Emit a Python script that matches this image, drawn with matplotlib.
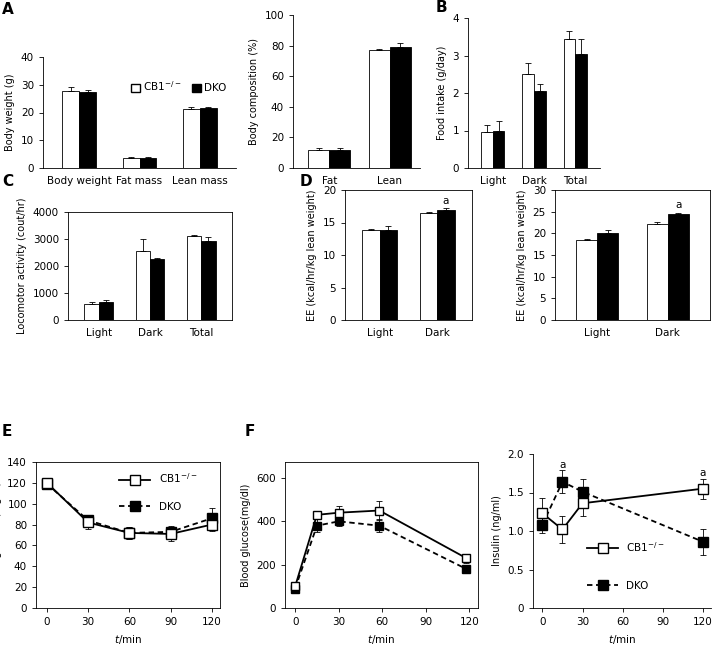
import matplotlib
matplotlib.use("Agg")
import matplotlib.pyplot as plt
import numpy as np
from matplotlib.lines import Line2D
from matplotlib.patches import Patch

plt.rcParams['font.family'] = ['DejaVu Sans']
plt.rcParams['font.size'] = 7.5
plt.rcParams['axes.labelsize'] = 7
plt.rcParams['axes.linewidth'] = 0.6
plt.rcParams['xtick.major.width'] = 0.6
plt.rcParams['ytick.major.width'] = 0.6

W, H = 726, 648
fig = plt.figure(figsize=(W/100, H/100), dpi=100)

def ax_at(x0, y0, x1, y1):
    return fig.add_axes([x0/W, 1-y1/H, (x1-x0)/W, (y1-y0)/H])

# data
a1_cats = ["Body weight", "Fat mass", "Lean mass"]
a1_cb1 = [27.8, 3.7, 21.3]; a1_cb1_e = [1.3, 0.4, 0.8]
a1_dko = [27.3, 3.6, 21.5]; a1_dko_e = [0.8, 0.3, 0.5]
a2_cats = ["Fat", "Lean"]
a2_cb1 = [11.5, 77.0]; a2_cb1_e = [1.5, 1.0]
a2_dko = [12.0, 79.0]; a2_dko_e = [1.2, 3.0]
b_cats = ["Light", "Dark", "Total"]
b_cb1 = [0.95, 2.5, 3.45]; b_cb1_e = [0.2, 0.3, 0.2]
b_dko = [1.0, 2.05, 3.05]; b_dko_e = [0.25, 0.2, 0.4]
c_cb1 = [580, 2560, 3120]; c_cb1_e = [80, 450, 40]
c_dko = [650, 2250, 2920]; c_dko_e = [80, 30, 170]
d_cats = ["Light", "Dark"]
d1_cb1 = [13.8, 16.4]; d1_cb1_e = [0.2, 0.2]
d1_dko = [13.9, 17.0]; d1_dko_e = [0.5, 0.2]
d2_cb1 = [18.4, 22.2]; d2_cb1_e = [0.4, 0.5]
d2_dko = [20.1, 24.4]; d2_dko_e = [0.7, 0.3]
e_t = [0, 30, 60, 90, 120]
e_cb1 = [120, 82, 72, 71, 80]; e_cb1_e = [3, 6, 6, 7, 6]
e_dko = [119, 84, 72, 73, 86]; e_dko_e = [3, 5, 6, 6, 10]
f_t = [0, 15, 30, 58, 118]
f_cb1 = [100, 430, 440, 450, 230]; f_cb1_e = [20, 20, 30, 45, 20]
f_dko = [90, 380, 400, 380, 180]; f_dko_e = [20, 30, 20, 30, 15]
i_t = [0, 15, 30, 120]
i_cb1 = [1.23, 1.02, 1.36, 1.55]; i_cb1_e = [0.2, 0.18, 0.17, 0.13]
i_dko = [1.08, 1.64, 1.51, 0.86]; i_dko_e = [0.1, 0.15, 0.17, 0.17]

def bars(ax, cats, v1, e1, v2, e2, ylim, yticks, ylabel, box=False, bw=0.28, marks=None):
    x = np.arange(len(cats))
    ek = dict(elinewidth=0.6, capsize=2.5, capthick=0.6, ecolor='black')
    ax.bar(x - bw/2, v1, bw, yerr=[np.zeros(len(v1)), e1], color='white', edgecolor='black', linewidth=0.6, error_kw=ek)
    ax.bar(x + bw/2, v2, bw, yerr=[np.zeros(len(v2)), e2], color='black', edgecolor='black', linewidth=0.6, error_kw=ek)
    ax.set_xticks(x); ax.set_xticklabels(cats)
    ax.tick_params(axis='x', length=0, pad=6)
    ax.tick_params(axis='y', length=3)
    ax.set_xlim(-0.6, len(cats) - 0.4)
    ax.set_ylim(*ylim); ax.set_yticks(yticks)
    ax.set_ylabel(ylabel)
    if not box:
        ax.spines['top'].set_visible(False); ax.spines['right'].set_visible(False)
    if marks:
        for i in marks:
            ax.text(x[i] + bw/2, v2[i] + e2[i] + (ylim[1]-ylim[0])*0.02, 'a', ha='center', va='bottom')

a1 = ax_at(43, 57, 236, 168)
bars(a1, a1_cats, a1_cb1, a1_cb1_e, a1_dko, a1_dko_e, (0, 40), [0, 10, 20, 30, 40], "Body weight (g)")
a1.legend(handles=[Patch(facecolor='white', edgecolor='black', label='CB1$^{-/-}$'),
                   Patch(facecolor='black', edgecolor='black', label='DKO')],
          ncol=2, frameon=False, loc='upper right', bbox_to_anchor=(1.0, 0.88),
          handlelength=0.9, handleheight=0.9, columnspacing=1.0, handletextpad=0.3)
a2 = ax_at(293, 15, 420, 168)
bars(a2, a2_cats, a2_cb1, a2_cb1_e, a2_dko, a2_dko_e, (0, 100), [0, 20, 40, 60, 80, 100], "Body composition (%)", bw=0.35)
a2.set_xlim(-0.6, 1.5)
b = ax_at(468, 18, 600, 168)
bars(b, b_cats, b_cb1, b_cb1_e, b_dko, b_dko_e, (0, 4), [0, 1, 2, 3, 4], "Food intake (g/day)")
c = ax_at(68, 212, 232, 320)
bars(c, b_cats, c_cb1, c_cb1_e, c_dko, c_dko_e, (0, 4000), [0, 1000, 2000, 3000, 4000], "Locomotor activity (cout/hr)", box=True)
d1 = ax_at(345, 190, 472, 320)
bars(d1, d_cats, d1_cb1, d1_cb1_e, d1_dko, d1_dko_e, (0, 20), [0, 5, 10, 15, 20], "EE (kcal/hr/kg lean weight)", box=True, marks=[1], bw=0.3)
d2 = ax_at(555, 190, 710, 320)
bars(d2, d_cats, d2_cb1, d2_cb1_e, d2_dko, d2_dko_e, (0, 30), [0, 5, 10, 15, 20, 25, 30], "EE (kcal/hr/kg lean weight)", box=True, marks=[1], bw=0.3)

def lines(ax, t, v1, e1, v2, e2, ms=7):
    ek = dict(elinewidth=0.6, capsize=2.5, capthick=0.6, ecolor='black')
    ax.errorbar(t, v2, yerr=e2, fmt='s--', color='black', mfc='black', mec='black', ms=ms, lw=1.3, dashes=(3, 2), **ek)
    ax.errorbar(t, v1, yerr=e1, fmt='s-', color='black', mfc='white', mec='black', ms=ms, lw=1.3, **ek)
    ax.set_xticks([0, 30, 60, 90, 120])
    ax.set_xlabel('$\\it{t}$/min', fontsize=7.5)
    ax.tick_params(length=3)

e = ax_at(36, 462, 220, 608)
lines(e, e_t, e_cb1, e_cb1_e, e_dko, e_dko_e)
e.set_xlim(-8, 126); e.set_ylim(0, 140); e.set_yticks(range(0, 141, 20))
e.set_ylabel("Blood glucose (mg/dl)")
leg_h = [Line2D([], [], color='black', lw=1.3, marker='s', mfc='white', mec='black', ms=7, label='CB1$^{-/-}$'),
         Line2D([], [], color='black', lw=1.3, ls='--', dashes=(3, 2), marker='s', mfc='black', ms=7, label='DKO')]
e.legend(handles=leg_h, loc='upper left', bbox_to_anchor=(0.4, 1.0), frameon=False, labelspacing=1.6, handlelength=3)

f = ax_at(285, 462, 478, 608)
lines(f, f_t, f_cb1, f_cb1_e, f_dko, f_dko_e, ms=6)
f.set_xlim(-7, 126); f.set_ylim(0, 674); f.set_yticks([0, 200, 400, 600])
f.set_ylabel("Blood glucose(mg/dl)")

g = ax_at(533, 454, 711, 608)
lines(g, i_t, i_cb1, i_cb1_e, i_dko, i_dko_e)
g.set_xlim(-7, 126); g.set_ylim(0, 2.0); g.set_yticks([0, 0.5, 1.0, 1.5, 2.0])
g.set_yticklabels(['0', '0.5', '1.0', '1.5', '2.0'])
g.set_ylabel("Insulin (ng/ml)")
g.spines['top'].set_visible(False); g.spines['right'].set_visible(False)
g.text(15, 1.82, 'a', ha='center'); g.text(120, 1.72, 'a', ha='center')
g.legend(handles=leg_h, loc='lower left', bbox_to_anchor=(0.25, 0.05), frameon=False, labelspacing=2.6, handlelength=3)

for lab, x, y in [('A', 2, 10), ('B', 436, 8), ('C', 2, 182), ('D', 300, 182), ('E', 2, 432), ('F', 245, 432)]:
    fig.text(x/W, 1-y/H, lab, fontsize=11, fontweight='bold', va='center')

fig.savefig('out.png', dpi=100)
